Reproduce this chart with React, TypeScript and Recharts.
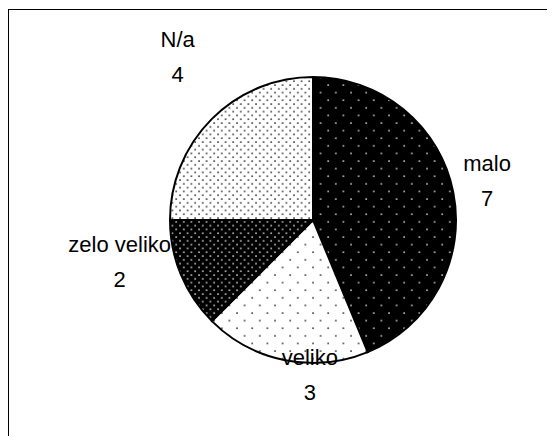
import React from "react";
import { PieChart, Pie, Cell } from "recharts";

const categories = ["malo", "veliko", "zelo veliko", "N/a"];
const counts = [7, 3, 2, 4];
const patternIds = ["pMalo", "pVeliko", "pZelo", "pNa"];
// label nudges (layout only)
const labelDx = [-2.5, 32, -27, -8];
const labelDy = [-4, -21.5, -27, -36];

const data = categories.map((name, i) => ({ name, value: counts[i] }));

const RAD = Math.PI / 180;
const FONT = "'Liberation Sans', Arial, sans-serif";

const renderLabel = (props: any) => {
  const { cx, cy, midAngle, index, name, value } = props;
  const R = 180;
  const x = cx + R * Math.cos(-midAngle * RAD) + labelDx[index];
  const y = cy + R * Math.sin(-midAngle * RAD) + labelDy[index];
  return (
    <text
      x={x}
      y={y}
      textAnchor="middle"
      fontFamily={FONT}
      fontSize={22}
      fill="#000"
    >
      <tspan x={x} y={y - 17.5} dominantBaseline="central">{name}</tspan>
      <tspan x={x} y={y + 17.5} dominantBaseline="central">{value}</tspan>
    </text>
  );
};

const Dots = ({ id, bg, fg, size }: { id: string; bg: string; fg: string; size: number }) => {
  const h = size / 2;
  return (
    <pattern id={id} width={size} height={size} patternUnits="userSpaceOnUse">
      <rect width={size} height={size} fill={bg} />
      <circle cx={1} cy={1} r={0.8} fill={fg} />
      <circle cx={1 + h} cy={1 + h} r={0.8} fill={fg} />
    </pattern>
  );
};

export default function App() {
  return (
    <div style={{ position: "relative", width: 539, height: 428, overflow: "hidden", background: "#fff" }}>
      <div
        style={{
          position: "absolute",
          left: 0,
          top: 1,
          width: 700,
          height: 700,
          borderTop: "1.5px solid #000",
          borderLeft: "1.5px solid #000",
        }}
      />
      <svg width={0} height={0} style={{ position: "absolute" }}>
        <defs>
          <Dots id="pMalo" bg="#000" fg="#fff" size={15.2} />
          <Dots id="pVeliko" bg="#fff" fg="#000" size={15.2} />
          <Dots id="pZelo" bg="#000" fg="#fff" size={7.6} />
          <Dots id="pNa" bg="#fff" fg="#000" size={7.6} />
        </defs>
      </svg>
      <div style={{ position: "absolute", left: 0, top: 0 }}>
        <PieChart width={539} height={428} margin={{ top: 0, right: 0, bottom: 0, left: 0 }}>
          <Pie
            data={data}
            dataKey="value"
            nameKey="name"
            cx={305}
            cy={212}
            outerRadius={143}
            startAngle={90}
            endAngle={-270}
            stroke="#000"
            strokeWidth={2}
            label={renderLabel}
            labelLine={false}
            isAnimationActive={false}
          >
            {data.map((d, i) => (
              <Cell key={d.name} fill={`url(#${patternIds[i]})`} />
            ))}
          </Pie>
        </PieChart>
      </div>
    </div>
  );
}
